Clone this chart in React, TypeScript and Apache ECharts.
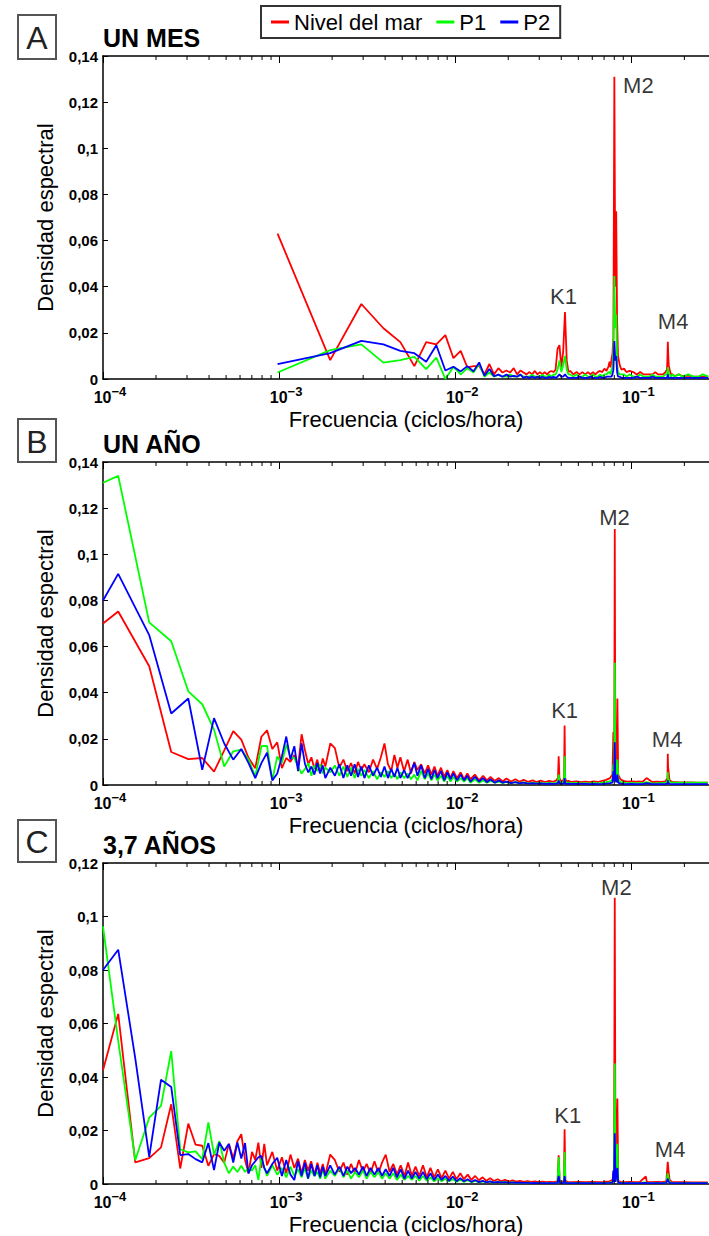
import React, { useEffect, useRef } from "react";
import * as echarts from "echarts";

const FONT = '"Liberation Sans", Arial, sans-serif';
const seriesNames = ["Nivel del mar", "P1", "P2"];
const seriesColors = ["#ff0000", "#00ff00", "#0000ff"];
const X_MIN = 0.0001;
const X_MAX = 0.276;
const minorTicks = [
  0.0002, 0.0003, 0.0004, 0.0005, 0.0006, 0.0007, 0.0008, 0.0009,
  0.002, 0.003, 0.004, 0.005, 0.006, 0.007, 0.008, 0.009,
  0.02, 0.03, 0.04, 0.05, 0.06, 0.07, 0.08, 0.09, 0.2,
];

// ---------- Panel A : UN MES ----------
const freqA = [
  0.00098, 0.00195, 0.00293, 0.00391, 0.00488, 0.00586, 0.00684, 0.00781, 0.00879, 0.00977,
  0.01074, 0.01172, 0.0127, 0.01367, 0.01465, 0.01563, 0.0166, 0.01758, 0.01855, 0.01953,
  0.02051, 0.02148, 0.02246, 0.02344, 0.02441, 0.02539, 0.02637, 0.02734, 0.02832, 0.0293,
  0.03027, 0.03125, 0.03223, 0.0332, 0.03418, 0.03516, 0.03613, 0.03711, 0.03809, 0.03906,
  0.04004, 0.04102, 0.04199, 0.04297, 0.04395, 0.04492,
  0.04688, 0.04883, 0.05078, 0.05273, 0.05469, 0.05664, 0.05859, 0.06055, 0.0625, 0.06445, 0.06641, 0.06836, 0.07031, 0.07227, 0.07422,
  0.0752, 0.07617, 0.07715, 0.07813, 0.0791, 0.08008, 0.08105, 0.08203, 0.08301, 0.08398,
  0.08594, 0.08789,
  0.09082, 0.09375,
  0.09766, 0.10254, 0.10742, 0.1123, 0.11719, 0.12207, 0.12695, 0.13184, 0.13672, 0.1416, 0.14648, 0.15137, 0.15625,
  0.15918, 0.16016, 0.16113, 0.16211, 0.16309,
  0.16504, 0.16797, 0.17188, 0.17578,
  0.18555, 0.19531, 0.20996, 0.22461, 0.23926, 0.25391, 0.27344,
];
const nivelA = [
  0.063, 0.0082, 0.0325, 0.022, 0.016, 0.0056, 0.016, 0.015, 0.019, 0.009,
  0.0122, 0.005, 0.0056, 0.0056, 0.002, 0.0065, 0.002, 0.0047, 0.0028, 0.0037,
  0.0028, 0.0047, 0.002, 0.0037, 0.0028, 0.002, 0.003, 0.002, 0.0035, 0.002,
  0.003, 0.002, 0.003, 0.002, 0.003, 0.0035, 0.003, 0.004, 0.013, 0.0147,
  0.005, 0.012, 0.029, 0.008, 0.003, 0.0035,
  0.002, 0.003, 0.002, 0.003, 0.002, 0.003, 0.002, 0.003, 0.002, 0.003, 0.0035, 0.003, 0.0045, 0.0035, 0.0055,
  0.0075, 0.005, 0.0085, 0.011, 0.018, 0.131, 0.04, 0.0727, 0.025, 0.01,
  0.006, 0.004,
  0.0045, 0.003,
  0.0035, 0.003, 0.002, 0.003, 0.002, 0.002, 0.002, 0.002, 0.003, 0.002, 0.002, 0.002, 0.003,
  0.004, 0.008, 0.0161, 0.01, 0.006,
  0.004, 0.002, 0.002, 0.0012,
  0.002, 0.0012, 0.0015, 0.001, 0.001, 0.001, 0.001,
];
const p1A = [
  0.0028, 0.0125, 0.015, 0.0071, 0.0082, 0.0096, 0.0043, 0.0093, 0.0, 0.0053,
  0.002, 0.0047, 0.0028, 0.0065, 0.001, 0.0028, 0.001, 0.0019, 0.001, 0.001,
  0.0019, 0.001, 0.001, 0.0019, 0.001, 0.001, 0.001, 0.0019, 0.001, 0.001,
  0.001, 0.0019, 0.001, 0.001, 0.0019, 0.001, 0.0019, 0.0019, 0.004, 0.008,
  0.003, 0.006, 0.01, 0.004, 0.002, 0.002,
  0.001, 0.002, 0.001, 0.001, 0.002, 0.001, 0.001, 0.002, 0.001, 0.001, 0.002, 0.001, 0.002, 0.002, 0.003,
  0.003, 0.002, 0.004, 0.005, 0.012, 0.0446, 0.022, 0.028, 0.007, 0.003,
  0.002, 0.002,
  0.002, 0.001,
  0.002, 0.001, 0.001, 0.002, 0.001, 0.001, 0.001, 0.002, 0.001, 0.001, 0.001, 0.001, 0.002,
  0.002, 0.003, 0.005, 0.004, 0.002,
  0.002, 0.001, 0.002, 0.001,
  0.002, 0.001, 0.002, 0.001, 0.001, 0.002, 0.001,
];
const p2A = [
  0.0064, 0.0112, 0.0165, 0.015, 0.0122, 0.0112, 0.0075, 0.0146, 0.0037, 0.0053,
  0.0033, 0.0056, 0.0033, 0.0072, 0.0014, 0.0043, 0.0012, 0.0019, 0.001, 0.0019,
  0.001, 0.0014, 0.001, 0.0019, 0.0005, 0.001, 0.0005, 0.001, 0.0005, 0.001,
  0.0005, 0.001, 0.0005, 0.0005, 0.001, 0.0005, 0.001, 0.0005, 0.001, 0.002,
  0.001, 0.001, 0.002, 0.001, 0.0005, 0.0005,
  0.0005, 0.0005, 0.001, 0.0005, 0.0005, 0.0005, 0.001, 0.0005, 0.0005, 0.0005, 0.001, 0.0005, 0.0005, 0.001, 0.001,
  0.001, 0.001, 0.001, 0.002, 0.004, 0.0165, 0.008, 0.01, 0.003, 0.001,
  0.001, 0.0005,
  0.0005, 0.0005,
  0.0005, 0.0005, 0.001, 0.0005, 0.0005, 0.0005, 0.0005, 0.001, 0.0005, 0.0005, 0.0005, 0.0005, 0.0005,
  0.0005, 0.001, 0.002, 0.001, 0.0005,
  0.0005, 0.0005, 0.0005, 0.0005,
  0.0005, 0.0005, 0.0005, 0.0005, 0.0005, 0.0005, 0.0005,
];
const notesA = [
  { name: "K1", f: 0.0412, v: 0.0358 },
  { name: "M2", f: 0.1096, v: 0.127 },
  { name: "M4", f: 0.1727, v: 0.0249 },
];

// ---------- Panel B : UN AÑO ----------
const freqB = [
  0.0001, 0.000122, 0.000183, 0.000244, 0.000305, 0.000366, 0.000427, 0.000488, 0.000549, 0.00061,
  0.000671, 0.000732, 0.000793, 0.000854, 0.000915, 0.000976, 0.001037, 0.001098, 0.001159, 0.00122,
  0.001281, 0.001342, 0.001403, 0.001464, 0.001525, 0.001586, 0.001647, 0.001708, 0.001769, 0.00183,
  0.001952, 0.002074, 0.002196, 0.002318, 0.00244, 0.002562, 0.002684, 0.002806, 0.002928, 0.00305,
  0.003233, 0.003416, 0.003599, 0.003782, 0.003965, 0.004148, 0.004331, 0.004514, 0.004697, 0.00488,
  0.005124, 0.005368, 0.005612, 0.005856, 0.0061, 0.006405, 0.00671, 0.007015, 0.00732, 0.007625,
  0.00793, 0.008296, 0.008662, 0.009028, 0.009394, 0.00976, 0.010248, 0.010736, 0.011224, 0.011712,
  0.0122, 0.012932, 0.013664, 0.014396, 0.015128, 0.01586, 0.016775, 0.01769, 0.018605, 0.01952,
  0.02074, 0.02196, 0.02318, 0.0244, 0.025925, 0.02745, 0.028975, 0.0305, 0.03233, 0.03416,
  0.03599, 0.037515, 0.038308, 0.038674, 0.03904, 0.039955, 0.04087, 0.04148, 0.041785, 0.04209,
  0.0427, 0.04392, 0.04575, 0.0488, 0.05185, 0.0549, 0.05795, 0.061, 0.06466, 0.06832,
  0.07198, 0.07564, 0.07808, 0.079056, 0.07991, 0.08052, 0.08113, 0.08235, 0.083326, 0.08418,
  0.08662, 0.09028, 0.09455, 0.10004, 0.10614, 0.1098, 0.11163, 0.1159, 0.122, 0.13115,
  0.1403, 0.14945, 0.15616, 0.16043, 0.16104, 0.16165, 0.1647, 0.1708, 0.183, 0.2013,
  0.2196, 0.2379, 0.2562, 0.27145,
];
const nivelB = [
  0.07, 0.0752, 0.0515, 0.0143, 0.0112, 0.0117, 0.0058, 0.015, 0.0234, 0.0197,
  0.0117, 0.0073, 0.0209, 0.0237, 0.0156, 0.0185, 0.0073, 0.0117, 0.01, 0.013,
  0.008, 0.022, 0.015, 0.009, 0.012, 0.007, 0.011, 0.006, 0.0115, 0.008,
  0.018, 0.016, 0.0075, 0.011, 0.006, 0.0095, 0.005, 0.01, 0.0065, 0.009,
  0.0055, 0.011, 0.007, 0.012, 0.018, 0.009, 0.006, 0.013, 0.0075, 0.012,
  0.006, 0.011, 0.005, 0.01, 0.0065, 0.009, 0.005, 0.0085, 0.0045, 0.008,
  0.004, 0.0075, 0.0035, 0.0065, 0.003, 0.006, 0.003, 0.0055, 0.0025, 0.005,
  0.0025, 0.0045, 0.002, 0.004, 0.002, 0.0035, 0.0018, 0.003, 0.0015, 0.0028,
  0.0015, 0.0025, 0.0014, 0.0022, 0.0014, 0.002, 0.0013, 0.0019, 0.0013, 0.0018,
  0.0014, 0.002, 0.003, 0.0125, 0.003, 0.0016, 0.0018, 0.003, 0.0258, 0.003,
  0.0016, 0.0018, 0.0013, 0.0016, 0.0012, 0.0015, 0.0012, 0.0016, 0.0013, 0.0018,
  0.0022, 0.003, 0.0045, 0.023, 0.0055, 0.111, 0.006, 0.005, 0.0375, 0.0045,
  0.0025, 0.0018, 0.0015, 0.0016, 0.0014, 0.0016, 0.0015, 0.0014, 0.003, 0.0013,
  0.0014, 0.0013, 0.0016, 0.003, 0.0135, 0.008, 0.002, 0.0013, 0.0012, 0.0011,
  0.0011, 0.001, 0.001, 0.001,
];
const p1B = [
  0.131, 0.134, 0.0705, 0.0623, 0.0406, 0.035, 0.024, 0.008, 0.0146, 0.0153,
  0.011, 0.0037, 0.0168, 0.017, 0.002, 0.0124, 0.0095, 0.0175, 0.012, 0.0117,
  0.008, 0.005, 0.007, 0.0095, 0.004, 0.0085, 0.006, 0.009, 0.005, 0.0075,
  0.0055, 0.0085, 0.004, 0.008, 0.0035, 0.0075, 0.003, 0.007, 0.004, 0.0065,
  0.003, 0.006, 0.0025, 0.0055, 0.0035, 0.006, 0.003, 0.005, 0.0025, 0.0055,
  0.003, 0.005, 0.0025, 0.0045, 0.002, 0.006, 0.0025, 0.005, 0.002, 0.0045,
  0.002, 0.004, 0.0015, 0.004, 0.0015, 0.0035, 0.0015, 0.003, 0.0015, 0.003,
  0.001, 0.0025, 0.001, 0.002, 0.001, 0.0018, 0.001, 0.0015, 0.0008, 0.0014,
  0.0008, 0.0012, 0.0008, 0.0011, 0.0007, 0.001, 0.0007, 0.0009, 0.0007, 0.0009,
  0.0007, 0.001, 0.0015, 0.0045, 0.0015, 0.0009, 0.001, 0.0018, 0.0125, 0.0018,
  0.0009, 0.001, 0.0008, 0.0009, 0.0007, 0.0008, 0.0007, 0.0009, 0.0007, 0.001,
  0.0012, 0.0016, 0.0022, 0.009, 0.003, 0.053, 0.004, 0.003, 0.011, 0.0025,
  0.0014, 0.001, 0.0008, 0.0009, 0.0008, 0.0008, 0.0008, 0.0008, 0.0012, 0.0007,
  0.0008, 0.0008, 0.001, 0.0015, 0.0055, 0.003, 0.0012, 0.001, 0.001, 0.001,
  0.001, 0.001, 0.001, 0.001,
];
const p2B = [
  0.08, 0.0915, 0.065, 0.031, 0.0375, 0.0066, 0.029, 0.018, 0.011, 0.0156,
  0.0095, 0.003, 0.0095, 0.014, 0.002, 0.005, 0.0124, 0.021, 0.011, 0.0168,
  0.006, 0.018, 0.009, 0.0055, 0.008, 0.0045, 0.0095, 0.005, 0.0085, 0.003,
  0.0075, 0.004, 0.009, 0.003, 0.0085, 0.004, 0.009, 0.0035, 0.008, 0.003,
  0.0085, 0.004, 0.0075, 0.0035, 0.008, 0.003, 0.007, 0.0035, 0.0075, 0.003,
  0.0065, 0.003, 0.006, 0.0095, 0.004, 0.0085, 0.003, 0.007, 0.0025, 0.0065,
  0.003, 0.006, 0.002, 0.0055, 0.0025, 0.005, 0.002, 0.0045, 0.002, 0.004,
  0.0015, 0.0035, 0.0015, 0.003, 0.0012, 0.0025, 0.001, 0.002, 0.001, 0.0015,
  0.0008, 0.0012, 0.0007, 0.001, 0.0006, 0.0008, 0.0006, 0.0007, 0.0005, 0.0006,
  0.0005, 0.0006, 0.0008, 0.002, 0.0008, 0.0005, 0.0006, 0.0008, 0.003, 0.0008,
  0.0005, 0.0006, 0.0005, 0.0005, 0.0005, 0.0005, 0.0004, 0.0005, 0.0004, 0.0005,
  0.0006, 0.0008, 0.001, 0.006, 0.0015, 0.0185, 0.002, 0.0012, 0.0045, 0.001,
  0.0006, 0.0005, 0.0004, 0.0005, 0.0004, 0.0004, 0.0004, 0.0004, 0.0008, 0.0004,
  0.0004, 0.0004, 0.0005, 0.0006, 0.002, 0.001, 0.0005, 0.0004, 0.0004, 0.0004,
  0.0004, 0.0004, 0.0004, 0.0004,
];
const notesB = [
  { name: "K1", f: 0.0418, v: 0.0323 },
  { name: "M2", f: 0.0802, v: 0.116 },
  { name: "M4", f: 0.1596, v: 0.0197 },
];

// ---------- Panel C : 3,7 AÑOS ----------
const freqC = [
  0.0001, 0.000122, 0.0001525, 0.000183, 0.0002135, 0.000244, 0.0002745, 0.000305, 0.0003355, 0.000366,
  0.0003965, 0.000427, 0.0004575, 0.000488, 0.0005185, 0.000549, 0.0005795, 0.00061, 0.0006405, 0.00067,
  0.0007015, 0.000732, 0.0007625, 0.000793, 0.0008235, 0.000854, 0.000915, 0.000976, 0.001037, 0.001098,
  0.00116, 0.00122, 0.001281, 0.001342, 0.0014, 0.00146, 0.00152, 0.00159, 0.00165, 0.00171,
  0.00177, 0.00183, 0.00195, 0.00207, 0.0022, 0.00232, 0.00244, 0.00256, 0.0027, 0.00284,
  0.00299, 0.00314, 0.0033, 0.00348, 0.00366, 0.00384, 0.00403, 0.00424, 0.00445, 0.00467,
  0.0049, 0.00515, 0.0054, 0.00567, 0.00595, 0.00625, 0.00656, 0.00689, 0.00723, 0.00759,
  0.00797, 0.00837, 0.00879, 0.00923, 0.00969, 0.01017, 0.01068, 0.01121, 0.01177, 0.01236,
  0.01298, 0.01363, 0.01431, 0.01503, 0.01578, 0.01657, 0.0174, 0.01827, 0.01918, 0.02014,
  0.02115, 0.0222, 0.02331, 0.02448, 0.0257, 0.02699, 0.02834, 0.02975, 0.03124, 0.0328,
  0.03444, 0.03616, 0.0381, 0.03866, 0.0392, 0.0405, 0.0414, 0.04178, 0.0422, 0.0435,
  0.0465, 0.0505, 0.055, 0.06, 0.065, 0.07, 0.075, 0.0783, 0.07896, 0.0797,
  0.08051, 0.0813, 0.08333, 0.0842, 0.087, 0.092, 0.0985, 0.105, 0.1118, 0.1208,
  0.1225, 0.13, 0.14, 0.15, 0.158, 0.161, 0.1625, 0.165, 0.17, 0.185,
  0.2, 0.22, 0.245, 0.2714,
];
const nivelC = [
  0.0425, 0.0636, 0.0081, 0.0097, 0.0137, 0.0298, 0.0058, 0.0226, 0.0147, 0.0143,
  0.0068, 0.0112, 0.0105, 0.008, 0.015, 0.0095, 0.016, 0.0186, 0.009, 0.004,
  0.012, 0.009, 0.0155, 0.006, 0.015, 0.007, 0.012, 0.005, 0.01, 0.004,
  0.011, 0.006, 0.0095, 0.004, 0.009, 0.005, 0.0085, 0.0035, 0.008, 0.004,
  0.0075, 0.0035, 0.011, 0.009, 0.0045, 0.008, 0.0035, 0.0075, 0.004, 0.009,
  0.0045, 0.0075, 0.004, 0.0085, 0.004, 0.008, 0.011, 0.0045, 0.0075, 0.0035,
  0.007, 0.003, 0.008, 0.003, 0.0065, 0.003, 0.007, 0.0025, 0.006, 0.0025,
  0.0055, 0.0022, 0.005, 0.002, 0.0045, 0.0018, 0.004, 0.0018, 0.0035, 0.0015,
  0.003, 0.0014, 0.0025, 0.0012, 0.0022, 0.0011, 0.0018, 0.001, 0.0016, 0.0009,
  0.0014, 0.0009, 0.0012, 0.0008, 0.0011, 0.0008, 0.001, 0.0007, 0.0009, 0.0007,
  0.0008, 0.0007, 0.001, 0.0107, 0.001, 0.0008, 0.0012, 0.0205, 0.0012, 0.0008,
  0.0007, 0.0008, 0.0007, 0.0008, 0.0007, 0.0008, 0.001, 0.0015, 0.004, 0.0015,
  0.107, 0.0015, 0.032, 0.0012, 0.0008, 0.0007, 0.0008, 0.0007, 0.0008, 0.0028,
  0.0008, 0.0007, 0.0008, 0.0007, 0.001, 0.0083, 0.005, 0.0015, 0.0008, 0.0007,
  0.0007, 0.0006, 0.0006, 0.0006,
];
const p1C = [
  0.0963, 0.0535, 0.0089, 0.0248, 0.0292, 0.0497, 0.013, 0.0118, 0.0122, 0.0093,
  0.023, 0.011, 0.016, 0.008, 0.004, 0.0065, 0.0045, 0.0068, 0.0045, 0.006,
  0.005, 0.007, 0.0015, 0.01, 0.006, 0.003, 0.007, 0.0035, 0.006, 0.0025,
  0.0065, 0.003, 0.0055, 0.0025, 0.006, 0.002, 0.005, 0.003, 0.0045, 0.002,
  0.0055, 0.002, 0.005, 0.003, 0.006, 0.0025, 0.005, 0.002, 0.0045, 0.0025,
  0.005, 0.002, 0.0045, 0.0025, 0.0045, 0.002, 0.004, 0.002, 0.004, 0.0015,
  0.0035, 0.0015, 0.003, 0.0015, 0.003, 0.0012, 0.003, 0.0012, 0.0025, 0.001,
  0.0022, 0.001, 0.002, 0.001, 0.0018, 0.0008, 0.0016, 0.0008, 0.0014, 0.0007,
  0.0012, 0.0006, 0.001, 0.0006, 0.0009, 0.0005, 0.0008, 0.0005, 0.0007, 0.0004,
  0.0006, 0.0004, 0.0005, 0.0004, 0.0005, 0.0004, 0.0004, 0.0003, 0.0004, 0.0003,
  0.0004, 0.0003, 0.0005, 0.01, 0.0005, 0.0004, 0.0006, 0.012, 0.0006, 0.0004,
  0.0004, 0.0004, 0.0003, 0.0004, 0.0003, 0.0004, 0.0005, 0.0008, 0.003, 0.001,
  0.045, 0.001, 0.015, 0.0008, 0.0004, 0.0003, 0.0004, 0.0003, 0.0004, 0.0006,
  0.0004, 0.0003, 0.0004, 0.0003, 0.0005, 0.004, 0.002, 0.0007, 0.0004, 0.0003,
  0.0003, 0.0003, 0.0003, 0.0003,
];
const p2C = [
  0.08, 0.0876, 0.047, 0.0101, 0.039, 0.0363, 0.0108, 0.0112, 0.0093, 0.0081,
  0.0153, 0.0052, 0.0155, 0.0124, 0.015, 0.008, 0.0155, 0.0095, 0.0153, 0.004,
  0.007, 0.0085, 0.01, 0.0105, 0.006, 0.004, 0.0075, 0.0098, 0.003, 0.009,
  0.0035, 0.0015, 0.0085, 0.003, 0.008, 0.002, 0.0075, 0.003, 0.007, 0.0025,
  0.0065, 0.003, 0.007, 0.0035, 0.0065, 0.003, 0.0065, 0.004, 0.006, 0.0035,
  0.0065, 0.003, 0.006, 0.0035, 0.006, 0.003, 0.0055, 0.003, 0.006, 0.0025,
  0.0055, 0.002, 0.005, 0.002, 0.0045, 0.002, 0.0045, 0.0018, 0.004, 0.0015,
  0.0035, 0.0015, 0.003, 0.0012, 0.0028, 0.001, 0.0022, 0.001, 0.0018, 0.0008,
  0.0015, 0.0007, 0.0012, 0.0006, 0.001, 0.0005, 0.0008, 0.0005, 0.0007, 0.0004,
  0.0006, 0.0004, 0.0005, 0.0004, 0.0004, 0.0003, 0.0004, 0.0003, 0.0003, 0.0003,
  0.0003, 0.0003, 0.0004, 0.003, 0.0004, 0.0003, 0.0004, 0.003, 0.0004, 0.0003,
  0.0003, 0.0003, 0.0003, 0.0003, 0.0003, 0.0003, 0.0004, 0.0005, 0.005, 0.0008,
  0.019, 0.0008, 0.006, 0.0005, 0.0003, 0.0003, 0.0003, 0.0003, 0.0003, 0.0004,
  0.0003, 0.0003, 0.0003, 0.0003, 0.0004, 0.002, 0.001, 0.0004, 0.0003, 0.0003,
  0.0003, 0.0003, 0.0003, 0.0003,
];
const notesC = [
  { name: "K1", f: 0.0435, v: 0.0256 },
  { name: "M2", f: 0.0822, v: 0.111 },
  { name: "M4", f: 0.166, v: 0.013 },
];

const panelData = [
  { letter: "A", title: "UN MES", yMax: 0.14, freq: freqA, values: [nivelA, p1A, p2A], notes: notesA },
  { letter: "B", title: "UN AÑO", yMax: 0.14, freq: freqB, values: [nivelB, p1B, p2B], notes: notesB },
  { letter: "C", title: "3,7 AÑOS", yMax: 0.12, freq: freqC, values: [nivelC, p1C, p2C], notes: notesC },
];

// layout (pixels)
const panelLayout = [
  { top: 56, height: 323, boxX: 18, boxY: 15, boxW: 38, boxH: 44, titleY: 38 },
  { top: 462, height: 323, boxX: 18, boxY: 419, boxW: 38, boxH: 43, titleY: 444 },
  { top: 863, height: 324, boxX: 18, boxY: 820, boxW: 38, boxH: 42, titleY: 845 },
];

function fmtY(v: number) {
  if (v === 0) return "0";
  return String(+v.toFixed(2)).replace(".", ",");
}

function buildOption() {
  const grid: any[] = [];
  const xAxis: any[] = [];
  const yAxis: any[] = [];
  const series: any[] = [];
  const graphic: any[] = [];

  panelData.forEach((p, i) => {
    const L = panelLayout[i];
    grid.push({ left: 103, right: -3, top: L.top, height: L.height, containLabel: false });
    xAxis.push({
      type: "log",
      logBase: 10,
      gridIndex: i,
      min: X_MIN,
      max: X_MAX,
      position: "bottom",
      axisLine: { show: true, lineStyle: { color: "#000", width: 1.5 } },
      axisTick: { show: true, inside: true, length: 7, lineStyle: { color: "#000", width: 1 } },
      splitLine: { show: false },
      axisLabel: {
        showMaxLabel: false,
        margin: 2,
        formatter: (v: number) => {
          const e = Math.round(Math.log10(v));
          return "{pad| }{b|10}{s|\u2212" + -e + "}";
        },
        rich: {
          pad: { width: 14, lineHeight: 24, fontSize: 10 },
          b: { fontSize: 16, fontWeight: "bold", fontFamily: FONT, color: "#000", lineHeight: 18, verticalAlign: "bottom" },
          s: { fontSize: 13, fontWeight: "bold", fontFamily: FONT, color: "#000", lineHeight: 18, verticalAlign: "bottom", padding: [0, 0, 7, 0] },
        },
      },
      name: "Frecuencia (ciclos/hora)",
      nameLocation: "middle",
      nameGap: 29,
      nameTextStyle: { fontFamily: FONT, fontSize: 22, color: "#000" },
    });
    xAxis.push({
      type: "log",
      logBase: 10,
      gridIndex: i,
      min: X_MIN,
      max: X_MAX,
      position: "top",
      axisLine: { show: true, lineStyle: { color: "#000", width: 1.5 } },
      axisTick: { show: true, inside: true, length: 7, lineStyle: { color: "#000", width: 1 } },
      axisLabel: { show: false },
      splitLine: { show: false },
    });
    yAxis.push({
      type: "value",
      gridIndex: i,
      min: 0,
      max: p.yMax,
      interval: 0.02,
      axisLine: { show: true, lineStyle: { color: "#000", width: 1.5 } },
      axisTick: { show: true, inside: true, length: 5, lineStyle: { color: "#000", width: 1 } },
      splitLine: { show: false },
      axisLabel: { formatter: fmtY, fontWeight: "bold", fontSize: 15, fontFamily: FONT, color: "#000", margin: 5 },
      name: "Densidad espectral",
      nameLocation: "middle",
      nameGap: 47,
      nameTextStyle: { fontFamily: FONT, fontSize: 22, color: "#000" },
    });

    p.values.forEach((vals, k) => {
      series.push({
        type: "line",
        name: seriesNames[k],
        xAxisIndex: 2 * i,
        yAxisIndex: i,
        data: p.freq.map((f, j) => [f, vals[j]]),
        showSymbol: false,
        symbol: "none",
        clip: true,
        lineStyle: { color: seriesColors[k], width: 1.8 },
        itemStyle: { color: seriesColors[k] },
        z: 2 + k,
      });
    });

    series.push({
      type: "scatter",
      name: "notes" + i,
      xAxisIndex: 2 * i,
      yAxisIndex: i,
      data: p.notes.map((n) => ({ name: n.name, value: [n.f, n.v] })),
      symbolSize: 1,
      itemStyle: { color: "rgba(0,0,0,0)" },
      silent: true,
      z: 10,
      label: { show: true, position: "inside", formatter: "{b}", fontFamily: FONT, fontSize: 22, color: "#000" },
    });

    series.push({
      type: "custom",
      name: "minor" + i,
      xAxisIndex: 2 * i,
      yAxisIndex: i,
      silent: true,
      z: 9,
      data: minorTicks.map((t) => [t, 0]),
      renderItem: (params: any, api: any) => {
        const x = api.coord([api.value(0), 0])[0];
        const cs = params.coordSys;
        const top = cs.y;
        const bottom = cs.y + cs.height;
        return {
          type: "group",
          children: [
            { type: "line", shape: { x1: x, y1: bottom, x2: x, y2: bottom - 4 }, style: { stroke: "#000", lineWidth: 1 } },
            { type: "line", shape: { x1: x, y1: top, x2: x, y2: top + 4 }, style: { stroke: "#000", lineWidth: 1 } },
          ],
        };
      },
    });

    graphic.push({
      type: "rect",
      shape: { x: L.boxX, y: L.boxY, width: L.boxW, height: L.boxH },
      style: { fill: "#fff", stroke: "#555", lineWidth: 2 },
    });
    graphic.push({
      type: "text",
      x: L.boxX + L.boxW / 2,
      y: L.boxY + L.boxH / 2 + 1,
      style: { text: p.letter, font: '32px "Liberation Sans", Arial, sans-serif', fill: "#222", align: "center", verticalAlign: "middle" },
    });
    graphic.push({
      type: "text",
      x: 103,
      y: L.titleY,
      style: { text: p.title, font: 'bold 25px "Liberation Sans", Arial, sans-serif', fill: "#000", align: "left", verticalAlign: "middle" },
    });
  });

  return {
    animation: false,
    backgroundColor: "#fff",
    legend: {
      data: seriesNames,
      left: 261,
      top: 6,
      padding: [5, 10, 5, 10],
      itemGap: 14,
      itemWidth: 18,
      itemHeight: 3,
      icon: "rect",
      borderColor: "#333",
      borderWidth: 2,
      backgroundColor: "#fff",
      textStyle: { fontFamily: FONT, fontSize: 22, color: "#000" },
    },
    grid,
    xAxis,
    yAxis,
    series,
    graphic,
  };
}

export default function App() {
  const ref = useRef<HTMLDivElement>(null);
  useEffect(() => {
    const chart = echarts.init(ref.current!, null, { renderer: "svg" });
    chart.setOption(buildOption() as any);
    return () => chart.dispose();
  }, []);
  return (
    <div
      ref={ref}
      style={{ position: "absolute", left: 0, top: 0, width: 709, height: 1236, background: "#fff" }}
    />
  );
}
